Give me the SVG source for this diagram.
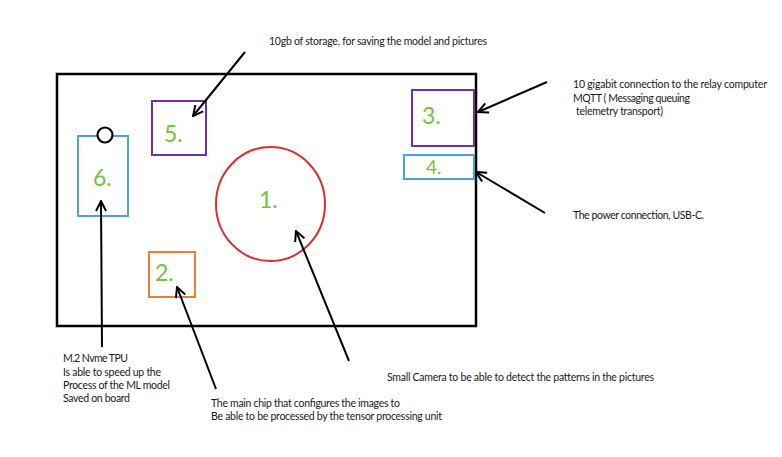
<svg xmlns="http://www.w3.org/2000/svg" width="782" height="457" viewBox="0 0 782 457">
<defs>
<marker id="ah" viewBox="0 0 12 12" refX="11" refY="6" markerWidth="12" markerHeight="12" markerUnits="userSpaceOnUse" orient="auto">
<path d="M1,1 L11,6 L1,11" fill="none" stroke="#000" stroke-width="2"/>
</marker>
<style>
.lbl{font-family:"Lato","DejaVu Sans",sans-serif;font-weight:normal;fill:#72c33c;font-size:23px}
.t{font-family:"Lato","Liberation Sans",sans-serif;font-size:10.5px;fill:#1a1a1a}
.conn{stroke:#000;stroke-width:2;fill:none;marker-end:url(#ah)}
</style>
</defs>
<rect width="782" height="457" fill="#fff"/>
<g id="board"><rect x="57" y="74" width="419" height="252" fill="none" stroke="#000" stroke-width="2.5"/></g>
<g id="n5"><rect x="152" y="101" width="54" height="54" fill="none" stroke="#7030a0" stroke-width="2"/><text class="lbl" x="164" y="142">5.</text></g>
<g id="n6"><rect x="78" y="136" width="50" height="80" fill="none" stroke="#4da3d8" stroke-width="2"/><circle cx="105" cy="135" r="7.5" fill="#fff" stroke="#000" stroke-width="2.2"/><text class="lbl" x="93" y="186">6.</text></g>
<g id="n3"><rect x="412" y="90" width="62" height="56" fill="none" stroke="#7030a0" stroke-width="2"/><text class="lbl" x="422" y="124">3.</text></g>
<g id="n4"><rect x="404" y="155" width="70" height="24" fill="none" stroke="#4da3d8" stroke-width="2"/><text class="lbl" x="426" y="174" style="font-size:19px">4.</text></g>
<g id="n1"><ellipse cx="270.5" cy="204" rx="54.5" ry="57" fill="none" stroke="#d9302f" stroke-width="2"/><text class="lbl" x="259" y="208">1.</text></g>
<g id="n2"><rect x="149" y="252" width="46" height="45" fill="none" stroke="#ed7d31" stroke-width="2"/><text class="lbl" x="155" y="281">2.</text></g>
<g id="connectors">
<line class="conn" x1="245" y1="52" x2="193" y2="116"/>
<line class="conn" x1="547" y1="82" x2="478" y2="112"/>
<line class="conn" x1="545" y1="213" x2="476" y2="172"/>
<line class="conn" x1="102" y1="347" x2="101" y2="201"/>
<line class="conn" x1="216" y1="389" x2="177" y2="287"/>
<line class="conn" x1="349" y1="361" x2="296" y2="231"/>
</g>
<g id="texts">
<text class="t" x="269" y="45" textLength="218">10gb of storage, for saving the model and pictures</text>
<text class="t" x="573" y="88" textLength="194">10 gigabit connection to the relay computer</text>
<text class="t" x="573" y="102" textLength="117">MQTT ( Messaging queuing</text>
<text class="t" x="576" y="115" textLength="87">telemetry transport)</text>
<text class="t" x="573" y="219" textLength="131">The power connection, USB-C.</text>
<text class="t" x="63" y="362" textLength="65">M.2 Nvme TPU</text>
<text class="t" x="63" y="376" textLength="98">Is able to speed up the</text>
<text class="t" x="63" y="389" textLength="107">Process of the ML model</text>
<text class="t" x="63" y="402" textLength="67">Saved on board</text>
<text class="t" x="211" y="407" textLength="189">The main chip that configures the images to</text>
<text class="t" x="211" y="420" textLength="231">Be able to be processed by the tensor processing unit</text>
<text class="t" x="387" y="381" textLength="267">Small Camera to be able to detect the patterns in the pictures</text>
</g>
</svg>
